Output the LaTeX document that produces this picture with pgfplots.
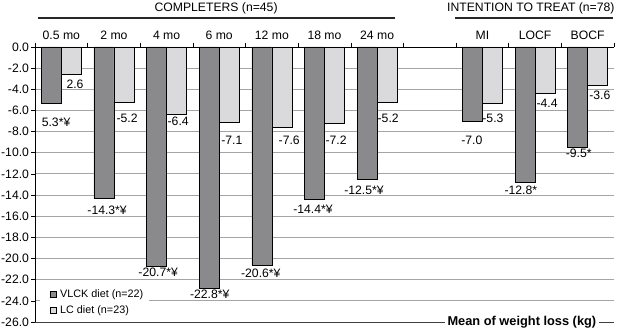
\documentclass[border=0pt]{standalone}
\usepackage{pgfplots}
\pgfplotsset{compat=1.18}
\usepackage{fontspec}
\setmainfont{Liberation Sans}
\definecolor{darkbar}{RGB}{138,138,140}
\definecolor{lightbar}{RGB}{218,218,220}
\definecolor{gridgray}{RGB}{165,165,165}
\newcommand\mainsize{\fontsize{12.2}{14}\selectfont}
\begin{document}
\begin{tikzpicture}
\begin{axis}[
  name=ax,
  scale only axis,
  width=579pt, height=275pt,
  xmin=-0.5, xmax=10.5,
  ymin=-26, ymax=0,
  clip=false,
  axis x line*=top,
  axis y line*=left,
  axis line style={black, line width=0.8pt},
  tick align=outside,
  xtick={0,1,2,3,4,5,6,8,9,10},
  xticklabels={0.5 mo,2 mo,4 mo,6 mo,12 mo,18 mo,24 mo,MI,LOCF,BOCF},
  major x tick style={draw=none},
  minor xtick={-0.5,0.5,...,10.5},
  minor tick length=4pt,
  minor x tick style={black, line width=0.6pt},
  xticklabel style={font=\mainsize},
  ytick={-26,-24,-22,-20,-18,-16,-14,-12,-10,-8,-6,-4,-2,0},
  yticklabels={-26.0,-24.0,-22.0,-20.0,-18.0,-16.0,-14.0,-12.0,-10.0,-8.0,-6.0,-4.0,-2.0,0.0},
  yticklabel style={font=\mainsize, xshift=1.5pt},
  major tick length=4pt,
  major y tick style={black, line width=0.6pt},
  ymajorgrids,
  grid style={gridgray, line width=0.9pt},
  legend style={at={(rel axis cs:0.0086,0.008)}, anchor=south west, draw=none, fill=white,
    font=\fontsize{10.8}{12}\selectfont, row sep=2pt, inner xsep=4pt, inner ysep=3pt},
  legend cell align=left,
]
\draw[black!75, line width=0.9pt] (rel axis cs:0,0) -- (rel axis cs:1,0);
\addplot[ybar, bar width=20pt, bar shift=-10pt, fill=darkbar, draw=black, line width=0.7pt,
  legend image code/.code={\path[draw=none, fill=none] (0pt,0pt) -- (14pt,0pt); \draw[fill=darkbar, draw=black, line width=0.6pt] (6pt,-3pt) rectangle (12pt,3pt);}]
  coordinates {(0,-5.3) (1,-14.3) (2,-20.7) (3,-22.8) (4,-20.6) (5,-14.4) (6,-12.5) (8,-7.0) (9,-12.8) (10,-9.5)};
\addlegendentry{VLCK diet (n=22)}
\addplot[ybar, bar width=20pt, bar shift=10pt, fill=lightbar, draw=black, line width=0.7pt,
  legend image code/.code={\path[draw=none, fill=none] (0pt,0pt) -- (14pt,0pt); \draw[fill=lightbar, draw=black, line width=0.6pt] (6pt,-3pt) rectangle (12pt,3pt);}]
  coordinates {(0,-2.6) (1,-5.2) (2,-6.4) (3,-7.1) (4,-7.6) (5,-7.2) (6,-5.2) (8,-5.3) (9,-4.4) (10,-3.6)};
\addlegendentry{LC diet (n=23)}
\addplot[forget plot, draw=none, mark=none, nodes near coords, point meta=explicit symbolic,
  every node near coord/.append style={anchor=center, font=\mainsize, inner sep=0pt}]
  table[meta=lab] {
x y lab
-0.10 -7.09 5.3*¥
0.26 -3.50 2.6
0.87 -15.41 -14.3*¥
1.25 -6.71 -5.2
1.84 -21.27 -20.7*¥
2.22 -6.99 -6.4
2.82 -23.35 -22.8*¥
3.24 -8.79 -7.1
3.79 -21.36 -20.6*¥
4.33 -8.79 -7.6
4.78 -15.31 -14.4*¥
5.22 -8.79 -7.2
5.75 -13.52 -12.5*¥
6.21 -6.71 -5.2
7.80 -8.79 -7.0
8.20 -6.71 -5.3
8.73 -13.52 -12.8*
9.23 -5.29 -4.4
9.83 -10.02 -9.5*
10.23 -4.54 -3.6
};
\node[font=\mainsize] at (axis cs:2.94,3.69) {COMPLETERS (n=45)};
\node[font=\mainsize] at (axis cs:8.92,3.69) {INTENTION TO TREAT (n=78)};
\draw[black!85, line width=1.2pt] (axis cs:-0.44,2.74) -- (axis cs:6.34,2.74);
\draw[black!85, line width=1.2pt] (axis cs:7.48,2.74) -- (axis cs:10.48,2.74);
\node[fill=white, font=\bfseries\fontsize{12.8}{15}\selectfont, inner xsep=3pt, inner ysep=1pt] at (axis cs:8.75,-26) {Mean of weight loss (kg)};
\end{axis}
\pgfresetboundingbox
\path ([shift={(-35pt,-11pt)}]ax.south west) rectangle ([shift={(5pt,47pt)}]ax.north east);
\end{tikzpicture}
\end{document}
